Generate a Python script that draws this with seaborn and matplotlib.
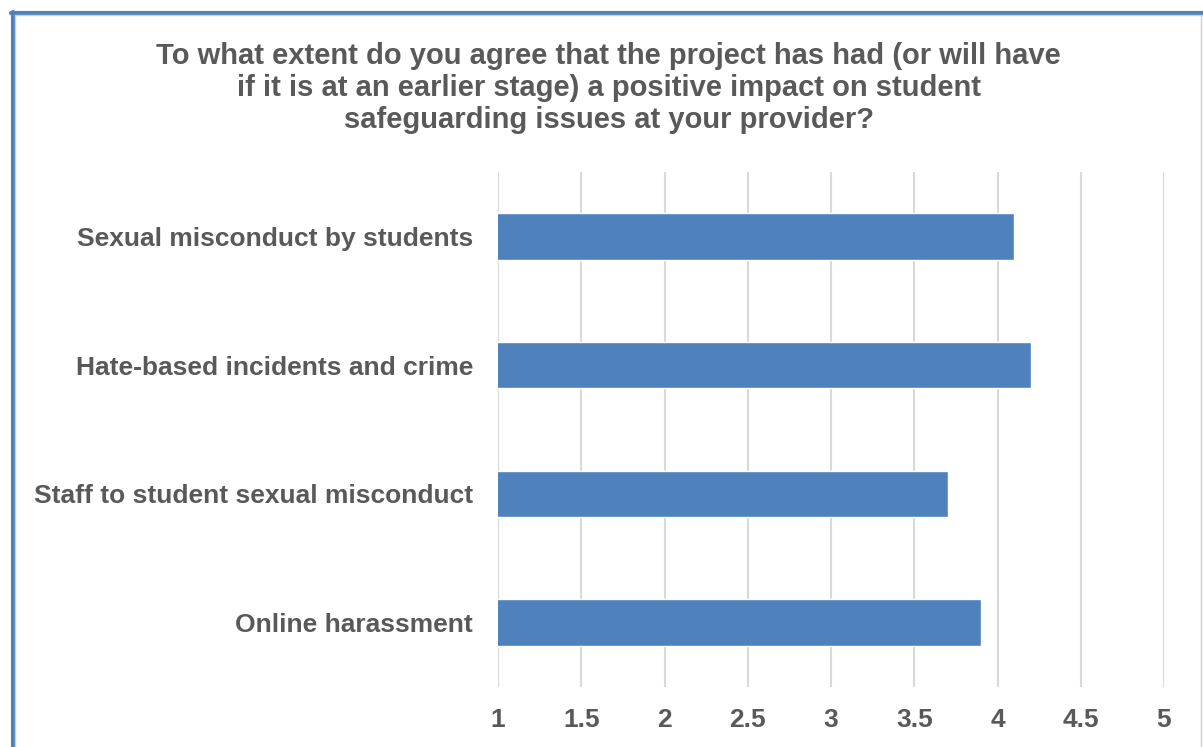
import matplotlib
matplotlib.use("Agg")
import matplotlib.pyplot as plt
from matplotlib.lines import Line2D
import seaborn as sns
import pandas as pd

# data
categories = [
    "Sexual misconduct by students",
    "Hate-based incidents and crime",
    "Staff to student sexual misconduct",
    "Online harassment",
]
scores = [4.1, 4.2, 3.7, 3.9]
x_ticks = [1, 1.5, 2, 2.5, 3, 3.5, 4, 4.5, 5]
x_tick_labels = ["1", "1.5", "2", "2.5", "3", "3.5", "4", "4.5", "5"]
title = ("To what extent do you agree that the project has had (or will have\n"
         "if it is at an earlier stage) a positive impact on student\n"
         "safeguarding issues at your provider?")

df = pd.DataFrame({"category": categories, "score": scores})

sns.set_style("white")
plt.rcParams["font.family"] = ["Liberation Sans", "DejaVu Sans"]

text_col = "#595959"
bar_col = "#4F81BD"

fig = plt.figure(figsize=(12.03, 7.47), dpi=100)
ax = fig.add_axes([498 / 1203, 1 - 687 / 747, 666 / 1203, 515 / 747])

sns.barplot(data=df, y="category", x="score", orient="h", color=bar_col,
            width=0.36, saturation=1, ax=ax, zorder=3)

ax.set_xlim(1, 5)
ax.set_ylim(3.5, -0.5)
ax.set_xticks(x_ticks)
ax.set_xticklabels(x_tick_labels)
ax.grid(axis="x", color="#D9D9D9", linewidth=1.5, zorder=0)
ax.grid(axis="y", visible=False)
for s in ax.spines.values():
    s.set_visible(False)
ax.set_xlabel("")
ax.set_ylabel("")
ax.tick_params(axis="both", length=0, labelsize=19, labelcolor=text_col)
ax.tick_params(axis="x", pad=15)
ax.tick_params(axis="y", pad=18)
for lab in ax.get_xticklabels() + ax.get_yticklabels():
    lab.set_fontweight("bold")

# title, middle line centred at y=88px
fig.text(0.506, 1 - 88 / 747, title, ha="center", va="center", fontsize=21,
         fontweight="bold", color=text_col, linespacing=1.2)

# chart frame like the exported office chart
W, H = 1203, 747
fig.add_artist(Line2D([12.5 / W, 12.5 / W], [0, 1 - 12 / H], color=bar_col, lw=3,
                      transform=fig.transFigure))
fig.add_artist(Line2D([11 / W, 1], [1 - 12.5 / H, 1 - 12.5 / H], color=bar_col, lw=3,
                      transform=fig.transFigure))
fig.add_artist(Line2D([15 / W, 15 / W], [0, 1 - 15 / H], color="#D0D0D0", lw=1,
                      transform=fig.transFigure))
fig.add_artist(Line2D([15 / W, 1], [1 - 15 / H, 1 - 15 / H], color="#D0D0D0", lw=1,
                      transform=fig.transFigure))
fig.add_artist(Line2D([1200.5 / W, 1200.5 / W], [0, 1 - 15 / H], color="#D0D0D0", lw=1,
                      transform=fig.transFigure))

fig.savefig("out.png", dpi=100)
